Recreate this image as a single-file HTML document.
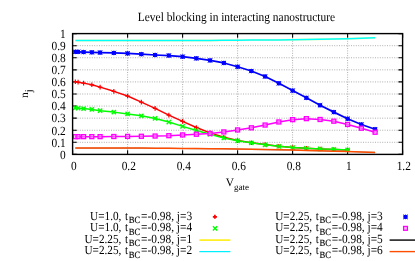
<!DOCTYPE html><html><head><meta charset="utf-8"><style>html,body{margin:0;padding:0;background:#fff}svg{display:block;will-change:transform}text{font-family:"Liberation Serif",serif;fill:#000;text-rendering:geometricPrecision}</style></head><body>
<svg width="415" height="261" viewBox="0 0 415 261">
<rect width="415" height="261" fill="#fff"/>
<path d="M72.6,142.32H402.6M72.6,130.24H402.6M72.6,118.16H402.6M72.6,106.08H402.6M72.6,94.00H402.6M72.6,81.92H402.6M72.6,69.84H402.6M72.6,57.76H402.6M72.6,45.68H402.6M127.60,33.60V154.4M182.60,33.60V154.4M237.60,33.60V154.4M292.60,33.60V154.4M347.60,33.60V154.4" stroke="#8e8e8e" stroke-width="0.7" stroke-dasharray="1 1.4" fill="none"/>
<path d="M72.6,154.40h4.2M402.6,154.40h-4.2M72.6,142.32h4.2M402.6,142.32h-4.2M72.6,130.24h4.2M402.6,130.24h-4.2M72.6,118.16h4.2M402.6,118.16h-4.2M72.6,106.08h4.2M402.6,106.08h-4.2M72.6,94.00h4.2M402.6,94.00h-4.2M72.6,81.92h4.2M402.6,81.92h-4.2M72.6,69.84h4.2M402.6,69.84h-4.2M72.6,57.76h4.2M402.6,57.76h-4.2M72.6,45.68h4.2M402.6,45.68h-4.2M72.6,33.60h4.2M402.6,33.60h-4.2M72.60,154.4v-4.2M72.60,33.60v4.2M127.60,154.4v-4.2M127.60,33.60v4.2M182.60,154.4v-4.2M182.60,33.60v4.2M237.60,154.4v-4.2M237.60,33.60v4.2M292.60,154.4v-4.2M292.60,33.60v4.2M347.60,154.4v-4.2M347.60,33.60v4.2M402.60,154.4v-4.2M402.60,33.60v4.2" stroke="#000" stroke-width="1.1" fill="none"/>
<path d="M75.35,81.68 L78.10,82.16 L83.60,83.13 L91.85,84.82 L100.10,87.11 L113.85,91.34 L127.60,96.05 L141.35,102.09 L155.10,108.38 L168.85,115.14 L182.60,121.42 L196.35,127.46 L210.10,132.90 L223.85,137.25 L237.60,140.51 L251.35,142.80 L265.10,144.49 L278.85,146.19 L292.60,147.45 L306.35,148.36 L320.10,148.96 L333.85,149.45 L347.60,149.93" stroke="#ff0000" stroke-width="1.5" fill="none" stroke-linejoin="round"/>
<path d="M73.05,81.68H77.65M75.35,79.38V83.98" stroke="#ff0000" stroke-width="1.2" fill="none"/>
<path d="M75.80,82.16H80.40M78.10,79.86V84.46" stroke="#ff0000" stroke-width="1.2" fill="none"/>
<path d="M81.30,83.13H85.90M83.60,80.83V85.43" stroke="#ff0000" stroke-width="1.2" fill="none"/>
<path d="M89.55,84.82H94.15M91.85,82.52V87.12" stroke="#ff0000" stroke-width="1.2" fill="none"/>
<path d="M97.80,87.11H102.40M100.10,84.81V89.41" stroke="#ff0000" stroke-width="1.2" fill="none"/>
<path d="M111.55,91.34H116.15M113.85,89.04V93.64" stroke="#ff0000" stroke-width="1.2" fill="none"/>
<path d="M125.30,96.05H129.90M127.60,93.75V98.35" stroke="#ff0000" stroke-width="1.2" fill="none"/>
<path d="M139.05,102.09H143.65M141.35,99.79V104.39" stroke="#ff0000" stroke-width="1.2" fill="none"/>
<path d="M152.80,108.38H157.40M155.10,106.08V110.68" stroke="#ff0000" stroke-width="1.2" fill="none"/>
<path d="M166.55,115.14H171.15M168.85,112.84V117.44" stroke="#ff0000" stroke-width="1.2" fill="none"/>
<path d="M180.30,121.42H184.90M182.60,119.12V123.72" stroke="#ff0000" stroke-width="1.2" fill="none"/>
<path d="M194.05,127.46H198.65M196.35,125.16V129.76" stroke="#ff0000" stroke-width="1.2" fill="none"/>
<path d="M207.80,132.90H212.40M210.10,130.60V135.20" stroke="#ff0000" stroke-width="1.2" fill="none"/>
<path d="M221.55,137.25H226.15M223.85,134.95V139.55" stroke="#ff0000" stroke-width="1.2" fill="none"/>
<path d="M235.30,140.51H239.90M237.60,138.21V142.81" stroke="#ff0000" stroke-width="1.2" fill="none"/>
<path d="M249.05,142.80H253.65M251.35,140.50V145.10" stroke="#ff0000" stroke-width="1.2" fill="none"/>
<path d="M262.80,144.49H267.40M265.10,142.19V146.79" stroke="#ff0000" stroke-width="1.2" fill="none"/>
<path d="M276.55,146.19H281.15M278.85,143.89V148.49" stroke="#ff0000" stroke-width="1.2" fill="none"/>
<path d="M290.30,147.45H294.90M292.60,145.15V149.75" stroke="#ff0000" stroke-width="1.2" fill="none"/>
<path d="M304.05,148.36H308.65M306.35,146.06V150.66" stroke="#ff0000" stroke-width="1.2" fill="none"/>
<path d="M317.80,148.96H322.40M320.10,146.66V151.26" stroke="#ff0000" stroke-width="1.2" fill="none"/>
<path d="M331.55,149.45H336.15M333.85,147.15V151.75" stroke="#ff0000" stroke-width="1.2" fill="none"/>
<path d="M345.30,149.93H349.90M347.60,147.63V152.23" stroke="#ff0000" stroke-width="1.2" fill="none"/>
<path d="M75.35,107.89 L78.10,108.13 L83.60,108.62 L91.85,109.46 L100.10,110.67 L113.85,112.12 L127.60,113.93 L141.35,115.86 L155.10,118.40 L168.85,122.03 L182.60,126.37 L196.35,130.48 L210.10,134.23 L223.85,137.97 L237.60,140.75 L251.35,142.80 L265.10,144.86 L278.85,146.37 L292.60,147.57 L306.35,148.36 L320.10,148.88 L333.85,149.37 L347.60,149.93" stroke="#00ff00" stroke-width="1.5" fill="none" stroke-linejoin="round"/>
<path d="M73.20,105.74L77.50,110.04M73.20,110.04L77.50,105.74" stroke="#00ff00" stroke-width="1.4" fill="none"/>
<path d="M75.95,105.98L80.25,110.28M75.95,110.28L80.25,105.98" stroke="#00ff00" stroke-width="1.4" fill="none"/>
<path d="M81.45,106.47L85.75,110.77M81.45,110.77L85.75,106.47" stroke="#00ff00" stroke-width="1.4" fill="none"/>
<path d="M89.70,107.31L94.00,111.61M89.70,111.61L94.00,107.31" stroke="#00ff00" stroke-width="1.4" fill="none"/>
<path d="M97.95,108.52L102.25,112.82M97.95,112.82L102.25,108.52" stroke="#00ff00" stroke-width="1.4" fill="none"/>
<path d="M111.70,109.97L116.00,114.27M111.70,114.27L116.00,109.97" stroke="#00ff00" stroke-width="1.4" fill="none"/>
<path d="M125.45,111.78L129.75,116.08M125.45,116.08L129.75,111.78" stroke="#00ff00" stroke-width="1.4" fill="none"/>
<path d="M139.20,113.71L143.50,118.01M139.20,118.01L143.50,113.71" stroke="#00ff00" stroke-width="1.4" fill="none"/>
<path d="M152.95,116.25L157.25,120.55M152.95,120.55L157.25,116.25" stroke="#00ff00" stroke-width="1.4" fill="none"/>
<path d="M166.70,119.88L171.00,124.18M166.70,124.18L171.00,119.88" stroke="#00ff00" stroke-width="1.4" fill="none"/>
<path d="M180.45,124.22L184.75,128.52M180.45,128.52L184.75,124.22" stroke="#00ff00" stroke-width="1.4" fill="none"/>
<path d="M194.20,128.33L198.50,132.63M194.20,132.63L198.50,128.33" stroke="#00ff00" stroke-width="1.4" fill="none"/>
<path d="M207.95,132.08L212.25,136.38M207.95,136.38L212.25,132.08" stroke="#00ff00" stroke-width="1.4" fill="none"/>
<path d="M221.70,135.82L226.00,140.12M221.70,140.12L226.00,135.82" stroke="#00ff00" stroke-width="1.4" fill="none"/>
<path d="M235.45,138.60L239.75,142.90M235.45,142.90L239.75,138.60" stroke="#00ff00" stroke-width="1.4" fill="none"/>
<path d="M249.20,140.65L253.50,144.95M249.20,144.95L253.50,140.65" stroke="#00ff00" stroke-width="1.4" fill="none"/>
<path d="M262.95,142.71L267.25,147.01M262.95,147.01L267.25,142.71" stroke="#00ff00" stroke-width="1.4" fill="none"/>
<path d="M276.70,144.22L281.00,148.52M276.70,148.52L281.00,144.22" stroke="#00ff00" stroke-width="1.4" fill="none"/>
<path d="M290.45,145.42L294.75,149.72M290.45,149.72L294.75,145.42" stroke="#00ff00" stroke-width="1.4" fill="none"/>
<path d="M304.20,146.21L308.50,150.51M304.20,150.51L308.50,146.21" stroke="#00ff00" stroke-width="1.4" fill="none"/>
<path d="M317.95,146.73L322.25,151.03M317.95,151.03L322.25,146.73" stroke="#00ff00" stroke-width="1.4" fill="none"/>
<path d="M331.70,147.22L336.00,151.52M331.70,151.52L336.00,147.22" stroke="#00ff00" stroke-width="1.4" fill="none"/>
<path d="M345.45,147.78L349.75,152.08M345.45,152.08L349.75,147.78" stroke="#00ff00" stroke-width="1.4" fill="none"/>
<path d="M75.35,40.53 L78.10,40.53 L83.60,40.53 L91.85,40.53 L100.10,40.53 L113.85,40.53 L127.60,40.53 L141.35,40.53 L155.10,40.53 L168.85,40.53 L182.60,40.53 L196.35,40.53 L210.10,40.49 L223.85,40.36 L237.60,40.24 L251.35,40.12 L265.10,40.00 L278.85,39.88 L292.60,39.76 L306.35,39.52 L320.10,39.28 L333.85,39.04 L347.60,38.79 L361.35,38.31 L375.10,37.83" stroke="#ffff00" stroke-width="2.0" fill="none" opacity="0.35"/>
<path d="M75.35,40.53 L78.10,40.53 L83.60,40.53 L91.85,40.53 L100.10,40.53 L113.85,40.53 L127.60,40.53 L141.35,40.53 L155.10,40.53 L168.85,40.53 L182.60,40.53 L196.35,40.53 L210.10,40.49 L223.85,40.36 L237.60,40.24 L251.35,40.12 L265.10,40.00 L278.85,39.88 L292.60,39.76 L306.35,39.52 L320.10,39.28 L333.85,39.04 L347.60,38.79 L361.35,38.31 L375.10,37.83" stroke="#00ffff" stroke-width="1.5" fill="none"/>
<path d="M75.35,51.84 L78.10,51.84 L83.60,52.08 L91.85,52.32 L100.10,52.57 L113.85,52.93 L127.60,53.41 L141.35,54.18 L155.10,54.98 L168.85,55.53 L182.60,56.67 L196.35,58.36 L210.10,60.42 L223.85,62.95 L237.60,66.74 L251.35,71.05 L265.10,76.48 L278.85,83.31 L292.60,90.62 L306.35,97.87 L320.10,105.23 L333.85,112.12 L347.60,118.76 L361.35,124.44 L375.10,129.21" stroke="#0000ff" stroke-width="1.7" fill="none" stroke-linejoin="round"/>
<path d="M73.05,51.84H77.65M75.35,49.54V54.14" stroke="#0000ff" stroke-width="0.9" fill="none"/><path d="M73.16,49.66L77.53,54.03M73.16,54.03L77.53,49.66" stroke="#0000ff" stroke-width="0.9" fill="none"/><rect x="73.39" y="49.89" width="3.91" height="3.91" fill="#0000ff"/>
<path d="M75.80,51.84H80.40M78.10,49.54V54.14" stroke="#0000ff" stroke-width="0.9" fill="none"/><path d="M75.91,49.66L80.28,54.03M75.91,54.03L80.28,49.66" stroke="#0000ff" stroke-width="0.9" fill="none"/><rect x="76.14" y="49.89" width="3.91" height="3.91" fill="#0000ff"/>
<path d="M81.30,52.08H85.90M83.60,49.78V54.38" stroke="#0000ff" stroke-width="0.9" fill="none"/><path d="M81.41,49.90L85.78,54.27M81.41,54.27L85.78,49.90" stroke="#0000ff" stroke-width="0.9" fill="none"/><rect x="81.64" y="50.13" width="3.91" height="3.91" fill="#0000ff"/>
<path d="M89.55,52.32H94.15M91.85,50.02V54.62" stroke="#0000ff" stroke-width="0.9" fill="none"/><path d="M89.66,50.14L94.03,54.51M89.66,54.51L94.03,50.14" stroke="#0000ff" stroke-width="0.9" fill="none"/><rect x="89.89" y="50.37" width="3.91" height="3.91" fill="#0000ff"/>
<path d="M97.80,52.57H102.40M100.10,50.27V54.87" stroke="#0000ff" stroke-width="0.9" fill="none"/><path d="M97.91,50.38L102.28,54.75M97.91,54.75L102.28,50.38" stroke="#0000ff" stroke-width="0.9" fill="none"/><rect x="98.14" y="50.61" width="3.91" height="3.91" fill="#0000ff"/>
<path d="M111.55,52.93H116.15M113.85,50.63V55.23" stroke="#0000ff" stroke-width="0.9" fill="none"/><path d="M111.66,50.74L116.03,55.11M111.66,55.11L116.03,50.74" stroke="#0000ff" stroke-width="0.9" fill="none"/><rect x="111.89" y="50.97" width="3.91" height="3.91" fill="#0000ff"/>
<path d="M125.30,53.41H129.90M127.60,51.11V55.71" stroke="#0000ff" stroke-width="0.9" fill="none"/><path d="M125.41,51.23L129.78,55.60M125.41,55.60L129.78,51.23" stroke="#0000ff" stroke-width="0.9" fill="none"/><rect x="125.64" y="51.46" width="3.91" height="3.91" fill="#0000ff"/>
<path d="M139.05,54.18H143.65M141.35,51.88V56.48" stroke="#0000ff" stroke-width="0.9" fill="none"/><path d="M139.16,52.00L143.53,56.37M139.16,56.37L143.53,52.00" stroke="#0000ff" stroke-width="0.9" fill="none"/><rect x="139.39" y="52.23" width="3.91" height="3.91" fill="#0000ff"/>
<path d="M152.80,54.98H157.40M155.10,52.68V57.28" stroke="#0000ff" stroke-width="0.9" fill="none"/><path d="M152.91,52.80L157.28,57.17M152.91,57.17L157.28,52.80" stroke="#0000ff" stroke-width="0.9" fill="none"/><rect x="153.14" y="53.03" width="3.91" height="3.91" fill="#0000ff"/>
<path d="M166.55,55.53H171.15M168.85,53.23V57.83" stroke="#0000ff" stroke-width="0.9" fill="none"/><path d="M166.66,53.34L171.03,57.71M166.66,57.71L171.03,53.34" stroke="#0000ff" stroke-width="0.9" fill="none"/><rect x="166.89" y="53.57" width="3.91" height="3.91" fill="#0000ff"/>
<path d="M180.30,56.67H184.90M182.60,54.37V58.97" stroke="#0000ff" stroke-width="0.9" fill="none"/><path d="M180.41,54.49L184.78,58.86M180.41,58.86L184.78,54.49" stroke="#0000ff" stroke-width="0.9" fill="none"/><rect x="180.64" y="54.72" width="3.91" height="3.91" fill="#0000ff"/>
<path d="M194.05,58.36H198.65M196.35,56.06V60.66" stroke="#0000ff" stroke-width="0.9" fill="none"/><path d="M194.16,56.18L198.53,60.55M194.16,60.55L198.53,56.18" stroke="#0000ff" stroke-width="0.9" fill="none"/><rect x="194.39" y="56.41" width="3.91" height="3.91" fill="#0000ff"/>
<path d="M207.80,60.42H212.40M210.10,58.12V62.72" stroke="#0000ff" stroke-width="0.9" fill="none"/><path d="M207.91,58.23L212.28,62.60M207.91,62.60L212.28,58.23" stroke="#0000ff" stroke-width="0.9" fill="none"/><rect x="208.14" y="58.46" width="3.91" height="3.91" fill="#0000ff"/>
<path d="M221.55,62.95H226.15M223.85,60.65V65.25" stroke="#0000ff" stroke-width="0.9" fill="none"/><path d="M221.67,60.77L226.04,65.14M221.67,65.14L226.04,60.77" stroke="#0000ff" stroke-width="0.9" fill="none"/><rect x="221.90" y="61.00" width="3.91" height="3.91" fill="#0000ff"/>
<path d="M235.30,66.74H239.90M237.60,64.44V69.04" stroke="#0000ff" stroke-width="0.9" fill="none"/><path d="M235.41,64.55L239.78,68.92M235.41,68.92L239.78,64.55" stroke="#0000ff" stroke-width="0.9" fill="none"/><rect x="235.64" y="64.78" width="3.91" height="3.91" fill="#0000ff"/>
<path d="M249.05,71.05H253.65M251.35,68.75V73.35" stroke="#0000ff" stroke-width="0.9" fill="none"/><path d="M249.16,68.86L253.53,73.23M249.16,73.23L253.53,68.86" stroke="#0000ff" stroke-width="0.9" fill="none"/><rect x="249.39" y="69.09" width="3.91" height="3.91" fill="#0000ff"/>
<path d="M262.80,76.48H267.40M265.10,74.18V78.78" stroke="#0000ff" stroke-width="0.9" fill="none"/><path d="M262.91,74.30L267.28,78.67M262.91,78.67L267.28,74.30" stroke="#0000ff" stroke-width="0.9" fill="none"/><rect x="263.14" y="74.53" width="3.91" height="3.91" fill="#0000ff"/>
<path d="M276.55,83.31H281.15M278.85,81.01V85.61" stroke="#0000ff" stroke-width="0.9" fill="none"/><path d="M276.67,81.12L281.04,85.49M276.67,85.49L281.04,81.12" stroke="#0000ff" stroke-width="0.9" fill="none"/><rect x="276.90" y="81.35" width="3.91" height="3.91" fill="#0000ff"/>
<path d="M290.30,90.62H294.90M292.60,88.32V92.92" stroke="#0000ff" stroke-width="0.9" fill="none"/><path d="M290.42,88.43L294.79,92.80M290.42,92.80L294.79,88.43" stroke="#0000ff" stroke-width="0.9" fill="none"/><rect x="290.65" y="88.66" width="3.91" height="3.91" fill="#0000ff"/>
<path d="M304.05,97.87H308.65M306.35,95.57V100.17" stroke="#0000ff" stroke-width="0.9" fill="none"/><path d="M304.17,95.68L308.54,100.05M304.17,100.05L308.54,95.68" stroke="#0000ff" stroke-width="0.9" fill="none"/><rect x="304.40" y="95.91" width="3.91" height="3.91" fill="#0000ff"/>
<path d="M317.80,105.23H322.40M320.10,102.93V107.53" stroke="#0000ff" stroke-width="0.9" fill="none"/><path d="M317.92,103.05L322.29,107.42M317.92,107.42L322.29,103.05" stroke="#0000ff" stroke-width="0.9" fill="none"/><rect x="318.15" y="103.28" width="3.91" height="3.91" fill="#0000ff"/>
<path d="M331.55,112.12H336.15M333.85,109.82V114.42" stroke="#0000ff" stroke-width="0.9" fill="none"/><path d="M331.67,109.94L336.04,114.31M331.67,114.31L336.04,109.94" stroke="#0000ff" stroke-width="0.9" fill="none"/><rect x="331.90" y="110.17" width="3.91" height="3.91" fill="#0000ff"/>
<path d="M345.30,118.76H349.90M347.60,116.46V121.06" stroke="#0000ff" stroke-width="0.9" fill="none"/><path d="M345.42,116.58L349.79,120.95M345.42,120.95L349.79,116.58" stroke="#0000ff" stroke-width="0.9" fill="none"/><rect x="345.65" y="116.81" width="3.91" height="3.91" fill="#0000ff"/>
<path d="M359.05,124.44H363.65M361.35,122.14V126.74" stroke="#0000ff" stroke-width="0.9" fill="none"/><path d="M359.17,122.26L363.54,126.63M359.17,126.63L363.54,122.26" stroke="#0000ff" stroke-width="0.9" fill="none"/><rect x="359.40" y="122.49" width="3.91" height="3.91" fill="#0000ff"/>
<path d="M372.80,129.21H377.40M375.10,126.91V131.51" stroke="#0000ff" stroke-width="0.9" fill="none"/><path d="M372.92,127.03L377.29,131.40M372.92,131.40L377.29,127.03" stroke="#0000ff" stroke-width="0.9" fill="none"/><rect x="373.15" y="127.26" width="3.91" height="3.91" fill="#0000ff"/>
<path d="M75.35,136.64 L78.10,136.64 L83.60,136.64 L91.85,136.64 L100.10,136.64 L113.85,136.52 L127.60,136.40 L141.35,136.28 L155.10,136.04 L168.85,135.68 L182.60,134.95 L196.35,134.23 L210.10,133.50 L223.85,131.93 L237.60,129.94 L251.35,127.82 L265.10,125.05 L278.85,121.97 L292.60,119.66 L306.35,118.64 L320.10,119.49 L333.85,121.18 L347.60,124.44 L361.35,128.19 L375.10,132.23" stroke="#ff00ff" stroke-width="1.5" fill="none" stroke-linejoin="round"/>
<rect x="73.35" y="134.64" width="4.00" height="4.00" fill="#ff90ff" fill-opacity="0.6" stroke="#ff00ff" stroke-width="1.3"/>
<rect x="76.10" y="134.64" width="4.00" height="4.00" fill="#ff90ff" fill-opacity="0.6" stroke="#ff00ff" stroke-width="1.3"/>
<rect x="81.60" y="134.64" width="4.00" height="4.00" fill="#ff90ff" fill-opacity="0.6" stroke="#ff00ff" stroke-width="1.3"/>
<rect x="89.85" y="134.64" width="4.00" height="4.00" fill="#ff90ff" fill-opacity="0.6" stroke="#ff00ff" stroke-width="1.3"/>
<rect x="98.10" y="134.64" width="4.00" height="4.00" fill="#ff90ff" fill-opacity="0.6" stroke="#ff00ff" stroke-width="1.3"/>
<rect x="111.85" y="134.52" width="4.00" height="4.00" fill="#ff90ff" fill-opacity="0.6" stroke="#ff00ff" stroke-width="1.3"/>
<rect x="125.60" y="134.40" width="4.00" height="4.00" fill="#ff90ff" fill-opacity="0.6" stroke="#ff00ff" stroke-width="1.3"/>
<rect x="139.35" y="134.28" width="4.00" height="4.00" fill="#ff90ff" fill-opacity="0.6" stroke="#ff00ff" stroke-width="1.3"/>
<rect x="153.10" y="134.04" width="4.00" height="4.00" fill="#ff90ff" fill-opacity="0.6" stroke="#ff00ff" stroke-width="1.3"/>
<rect x="166.85" y="133.68" width="4.00" height="4.00" fill="#ff90ff" fill-opacity="0.6" stroke="#ff00ff" stroke-width="1.3"/>
<rect x="180.60" y="132.95" width="4.00" height="4.00" fill="#ff90ff" fill-opacity="0.6" stroke="#ff00ff" stroke-width="1.3"/>
<rect x="194.35" y="132.23" width="4.00" height="4.00" fill="#ff90ff" fill-opacity="0.6" stroke="#ff00ff" stroke-width="1.3"/>
<rect x="208.10" y="131.50" width="4.00" height="4.00" fill="#ff90ff" fill-opacity="0.6" stroke="#ff00ff" stroke-width="1.3"/>
<rect x="221.85" y="129.93" width="4.00" height="4.00" fill="#ff90ff" fill-opacity="0.6" stroke="#ff00ff" stroke-width="1.3"/>
<rect x="235.60" y="127.94" width="4.00" height="4.00" fill="#ff90ff" fill-opacity="0.6" stroke="#ff00ff" stroke-width="1.3"/>
<rect x="249.35" y="125.82" width="4.00" height="4.00" fill="#ff90ff" fill-opacity="0.6" stroke="#ff00ff" stroke-width="1.3"/>
<rect x="263.10" y="123.05" width="4.00" height="4.00" fill="#ff90ff" fill-opacity="0.6" stroke="#ff00ff" stroke-width="1.3"/>
<rect x="276.85" y="119.97" width="4.00" height="4.00" fill="#ff90ff" fill-opacity="0.6" stroke="#ff00ff" stroke-width="1.3"/>
<rect x="290.60" y="117.66" width="4.00" height="4.00" fill="#ff90ff" fill-opacity="0.6" stroke="#ff00ff" stroke-width="1.3"/>
<rect x="304.35" y="116.64" width="4.00" height="4.00" fill="#ff90ff" fill-opacity="0.6" stroke="#ff00ff" stroke-width="1.3"/>
<rect x="318.10" y="117.49" width="4.00" height="4.00" fill="#ff90ff" fill-opacity="0.6" stroke="#ff00ff" stroke-width="1.3"/>
<rect x="331.85" y="119.18" width="4.00" height="4.00" fill="#ff90ff" fill-opacity="0.6" stroke="#ff00ff" stroke-width="1.3"/>
<rect x="345.60" y="122.44" width="4.00" height="4.00" fill="#ff90ff" fill-opacity="0.6" stroke="#ff00ff" stroke-width="1.3"/>
<rect x="359.35" y="126.19" width="4.00" height="4.00" fill="#ff90ff" fill-opacity="0.6" stroke="#ff00ff" stroke-width="1.3"/>
<rect x="373.10" y="130.23" width="4.00" height="4.00" fill="#ff90ff" fill-opacity="0.6" stroke="#ff00ff" stroke-width="1.3"/>
<path d="M75.35,148.12 L78.10,148.12 L83.60,148.12 L91.85,148.12 L100.10,148.12 L113.85,148.12 L127.60,148.12 L141.35,148.12 L155.10,148.24 L168.85,148.36 L182.60,148.48 L196.35,148.60 L210.10,148.72 L223.85,148.84 L237.60,149.08 L251.35,149.33 L265.10,149.57 L278.85,149.81 L292.60,150.05 L306.35,150.41 L320.10,150.78 L333.85,151.14 L347.60,151.50 L361.35,151.98 L375.10,152.39" stroke="#333" stroke-width="1.2" fill="none" opacity="0.5"/>
<path d="M75.35,148.12 L78.10,148.12 L83.60,148.12 L91.85,148.12 L100.10,148.12 L113.85,148.12 L127.60,148.12 L141.35,148.12 L155.10,148.24 L168.85,148.36 L182.60,148.48 L196.35,148.60 L210.10,148.72 L223.85,148.84 L237.60,149.08 L251.35,149.33 L265.10,149.57 L278.85,149.81 L292.60,150.05 L306.35,150.41 L320.10,150.78 L333.85,151.14 L347.60,151.50 L361.35,151.98 L375.10,152.39" stroke="#ff4d00" stroke-width="1.5" fill="none"/>
<rect x="72.6" y="33.60" width="330.0" height="120.8" fill="none" stroke="#000" stroke-width="1.4"/>
<text transform="translate(236.40,20.55) scale(1.005,1.1)" font-size="11.36" text-anchor="middle">Level blocking in interacting nanostructure</text>
<text transform="translate(65.70,158.70) scale(1.0,1.1)" font-size="11.4" text-anchor="end">0</text>
<text transform="translate(65.70,146.62) scale(1.0,1.1)" font-size="11.4" text-anchor="end">0.1</text>
<text transform="translate(65.70,134.54) scale(1.0,1.1)" font-size="11.4" text-anchor="end">0.2</text>
<text transform="translate(65.70,122.46) scale(1.0,1.1)" font-size="11.4" text-anchor="end">0.3</text>
<text transform="translate(65.70,110.38) scale(1.0,1.1)" font-size="11.4" text-anchor="end">0.4</text>
<text transform="translate(65.70,98.30) scale(1.0,1.1)" font-size="11.4" text-anchor="end">0.5</text>
<text transform="translate(65.70,86.22) scale(1.0,1.1)" font-size="11.4" text-anchor="end">0.6</text>
<text transform="translate(65.70,74.14) scale(1.0,1.1)" font-size="11.4" text-anchor="end">0.7</text>
<text transform="translate(65.70,62.06) scale(1.0,1.1)" font-size="11.4" text-anchor="end">0.8</text>
<text transform="translate(65.70,49.98) scale(1.0,1.1)" font-size="11.4" text-anchor="end">0.9</text>
<text transform="translate(65.70,37.90) scale(1.0,1.1)" font-size="11.4" text-anchor="end">1</text>
<text transform="translate(73.80,170.25) scale(1.0,1.1)" font-size="11.4" text-anchor="middle">0</text>
<text transform="translate(128.80,170.25) scale(1.0,1.1)" font-size="11.4" text-anchor="middle">0.2</text>
<text transform="translate(183.80,170.25) scale(1.0,1.1)" font-size="11.4" text-anchor="middle">0.4</text>
<text transform="translate(238.80,170.25) scale(1.0,1.1)" font-size="11.4" text-anchor="middle">0.6</text>
<text transform="translate(293.80,170.25) scale(1.0,1.1)" font-size="11.4" text-anchor="middle">0.8</text>
<text transform="translate(348.80,170.25) scale(1.0,1.1)" font-size="11.4" text-anchor="middle">1</text>
<text transform="translate(403.80,170.25) scale(1.0,1.1)" font-size="11.4" text-anchor="middle">1.2</text>
<text x="225.7" y="185.8" font-size="11.4">V<tspan font-size="9" dy="4">gate</tspan></text>
<text transform="translate(28.4,97.9) rotate(-90)" font-size="11.4">n<tspan font-size="10.5" dy="3.9">j</tspan></text>
<text transform="translate(192.10,219.70) scale(0.985,1.085)" font-size="11.55" text-anchor="end">=-0.98, j=3</text><text transform="translate(128.70,223.25) scale(0.9,1.0)" stroke="#000" stroke-width="0.13" font-size="9.6" text-anchor="start">BC</text><text transform="translate(128.10,219.70) scale(0.985,1.085)" word-spacing="0.8" font-size="11.4" text-anchor="end">U=1.0, t</text>
<path d="M212.85,216.80H216.95M214.90,214.75V218.85" stroke="#ff0000" stroke-width="1.7" fill="none"/>
<text transform="translate(192.10,231.15) scale(0.985,1.085)" font-size="11.55" text-anchor="end">=-0.98, j=4</text><text transform="translate(128.70,234.70) scale(0.9,1.0)" stroke="#000" stroke-width="0.13" font-size="9.6" text-anchor="start">BC</text><text transform="translate(128.10,231.15) scale(0.985,1.085)" word-spacing="0.8" font-size="11.4" text-anchor="end">U=1.0, t</text>
<path d="M212.95,226.20L217.25,230.50M212.95,230.50L217.25,226.20" stroke="#00ff00" stroke-width="1.45" fill="none"/>
<text transform="translate(192.10,242.60) scale(0.985,1.085)" font-size="11.55" text-anchor="end">=-0.98, j=1</text><text transform="translate(128.70,246.15) scale(0.9,1.0)" stroke="#000" stroke-width="0.13" font-size="9.6" text-anchor="start">BC</text><text transform="translate(128.10,242.60) scale(0.985,1.085)" word-spacing="0.8" font-size="11.4" text-anchor="end">U=2.25, t</text>
<path d="M199.3,240.1H230.4" stroke="#ffee10" stroke-width="1.6"/>
<text transform="translate(192.10,254.05) scale(0.985,1.085)" font-size="11.55" text-anchor="end">=-0.98, j=2</text><text transform="translate(128.70,257.60) scale(0.9,1.0)" stroke="#000" stroke-width="0.13" font-size="9.6" text-anchor="start">BC</text><text transform="translate(128.10,254.05) scale(0.985,1.085)" word-spacing="0.8" font-size="11.4" text-anchor="end">U=2.25, t</text>
<path d="M199.3,251.6H230.4" stroke="#00f0ff" stroke-width="1.25"/>
<text transform="translate(382.80,219.70) scale(0.985,1.085)" font-size="11.55" text-anchor="end">=-0.98, j=3</text><text transform="translate(319.40,223.25) scale(0.9,1.0)" stroke="#000" stroke-width="0.13" font-size="9.6" text-anchor="start">BC</text><text transform="translate(318.80,219.70) scale(0.985,1.085)" word-spacing="0.8" font-size="11.4" text-anchor="end">U=2.25, t</text>
<path d="M403.20,216.90H407.80M405.50,214.60V219.20" stroke="#0000ff" stroke-width="0.9" fill="none"/><path d="M403.31,214.72L407.69,219.09M403.31,219.09L407.69,214.72" stroke="#0000ff" stroke-width="0.9" fill="none"/><rect x="403.55" y="214.94" width="3.91" height="3.91" fill="#0000ff"/>
<text transform="translate(382.80,231.15) scale(0.985,1.085)" font-size="11.55" text-anchor="end">=-0.98, j=4</text><text transform="translate(319.40,234.70) scale(0.9,1.0)" stroke="#000" stroke-width="0.13" font-size="9.6" text-anchor="start">BC</text><text transform="translate(318.80,231.15) scale(0.985,1.085)" word-spacing="0.8" font-size="11.4" text-anchor="end">U=2.25, t</text>
<rect x="403.60" y="226.45" width="3.80" height="3.80" fill="#ff90ff" fill-opacity="0.6" stroke="#ff00ff" stroke-width="1.3"/>
<text transform="translate(382.80,242.60) scale(0.985,1.085)" font-size="11.55" text-anchor="end">=-0.98, j=5</text><text transform="translate(319.40,246.15) scale(0.9,1.0)" stroke="#000" stroke-width="0.13" font-size="9.6" text-anchor="start">BC</text><text transform="translate(318.80,242.60) scale(0.985,1.085)" word-spacing="0.8" font-size="11.4" text-anchor="end">U=2.25, t</text>
<path d="M389.6,240.1H421" stroke="#2e2e2e" stroke-width="1.7"/>
<text transform="translate(382.80,254.05) scale(0.985,1.085)" font-size="11.55" text-anchor="end">=-0.98, j=6</text><text transform="translate(319.40,257.60) scale(0.9,1.0)" stroke="#000" stroke-width="0.13" font-size="9.6" text-anchor="start">BC</text><text transform="translate(318.80,254.05) scale(0.985,1.085)" word-spacing="0.8" font-size="11.4" text-anchor="end">U=2.25, t</text>
<path d="M389.6,251.6H421" stroke="#ff4d00" stroke-width="1.4"/>
</svg></body></html>
